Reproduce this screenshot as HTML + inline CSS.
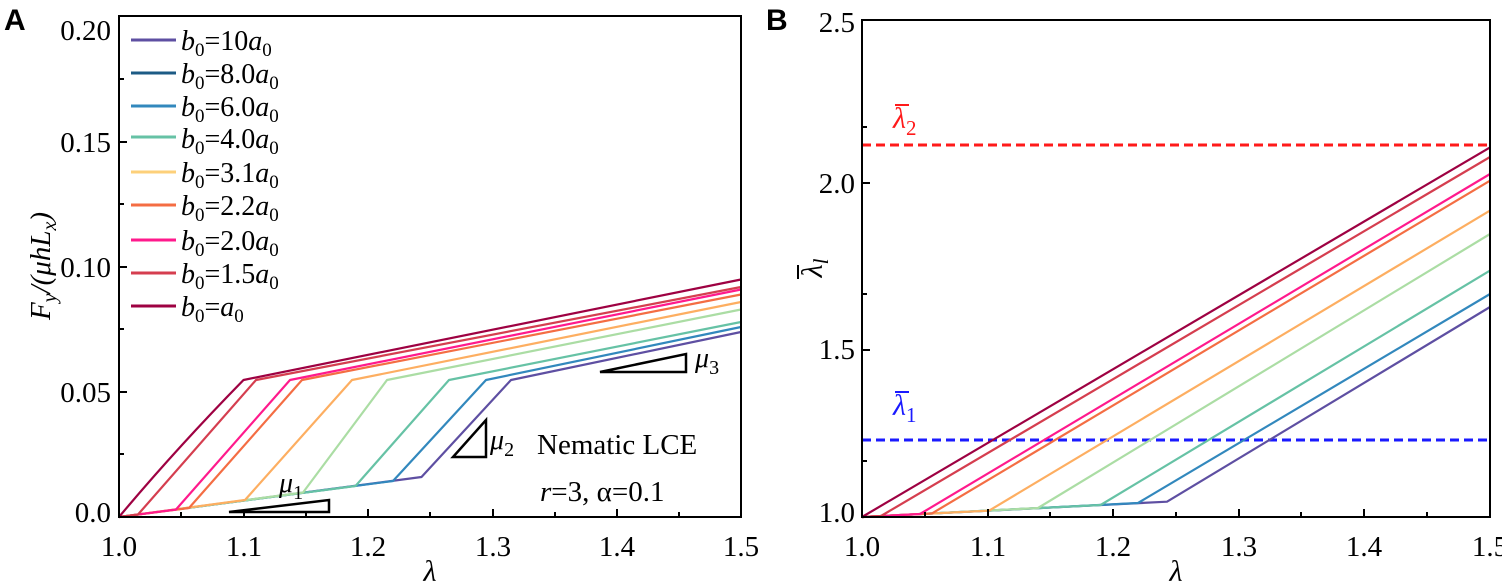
<!DOCTYPE html>
<html><head><meta charset="utf-8"><style>
body{margin:0;background:#fff}
svg text{font-family:"Liberation Serif","Times New Roman",Times,"Nimbus Roman","DejaVu Serif",serif}
svg text.lab{font-family:"Liberation Sans",Arial,sans-serif;font-weight:bold}
</style></head><body>
<svg width="1502" height="583" viewBox="0 0 1502 583" xmlns="http://www.w3.org/2000/svg">
<rect width="1502" height="583" fill="#fff"/>
<!-- Panel A -->
<text class="lab" x="4" y="30" font-size="30">A</text>
<g fill="none" stroke-width="2.2" stroke-linejoin="round">
<polyline stroke="#5e4fa2" points="119,517 421.5,477 511,380 741,332"/>
<polyline stroke="#3288bd" points="119,517 393,481 486,380 741,327"/>
<polyline stroke="#66c2a5" points="119,517 355.5,486 449,380 741,322"/>
<polyline stroke="#abdda4" points="119,517 303,492.5 387,380 741,309.5"/>
<polyline stroke="#fdae61" points="119,517 245,500 352,380 741,302"/>
<polyline stroke="#f46d43" points="119,517 189,508 302,380 741,294.5"/>
<polyline stroke="#ff1a8c" points="119,517 176,509.5 290,380 741,289.5"/>
<polyline stroke="#d53e4f" points="119,517 138,514.5 256,380 741,287"/>
<path stroke="#9e0142" d="M119,517 Q175,450 243.5,380 L741,279.5"/>
</g>
<g stroke="#000" stroke-width="2.5" fill="none">
<polygon points="229,512 329,512 329,500"/>
<polygon points="453,457 486,457 486,420"/>
<polygon points="600,372 686,372 686,354"/>
</g>
<g font-size="28" font-style="italic">
<text x="279" y="492">μ<tspan font-size="20" font-style="normal" dy="7">1</tspan></text>
<text x="490" y="449">μ<tspan font-size="20" font-style="normal" dy="7">2</tspan></text>
<text x="695" y="367">μ<tspan font-size="20" font-style="normal" dy="7">3</tspan></text>
</g>
<text x="537" y="454" font-size="29">Nematic LCE</text>
<text x="540" y="501" font-size="29"><tspan font-style="italic">r</tspan>=3, α=0.1</text>
<!-- legend -->
<g stroke-width="3">
<line x1="131" y1="40" x2="176" y2="40" stroke="#5e4fa2"/>
<line x1="131" y1="73" x2="176" y2="73" stroke="#1d5b85"/>
<line x1="131" y1="106" x2="176" y2="106" stroke="#3288bd"/>
<line x1="131" y1="137" x2="176" y2="137" stroke="#66c2a5"/>
<line x1="131" y1="172" x2="176" y2="172" stroke="#fdd07a"/>
<line x1="131" y1="205" x2="176" y2="205" stroke="#f46d43"/>
<line x1="131" y1="240" x2="176" y2="240" stroke="#ff1a8c"/>
<line x1="131" y1="273" x2="176" y2="273" stroke="#d53e4f"/>
<line x1="131" y1="306" x2="176" y2="306" stroke="#9e0142"/>
</g>
<g font-size="28">
<text x="181" y="50"><tspan font-style="italic">b</tspan><tspan font-size="19" dy="6">0</tspan><tspan dy="-6">=10</tspan><tspan font-style="italic">a</tspan><tspan font-size="19" dy="6">0</tspan></text>
<text x="181" y="83"><tspan font-style="italic">b</tspan><tspan font-size="19" dy="6">0</tspan><tspan dy="-6">=8.0</tspan><tspan font-style="italic">a</tspan><tspan font-size="19" dy="6">0</tspan></text>
<text x="181" y="116"><tspan font-style="italic">b</tspan><tspan font-size="19" dy="6">0</tspan><tspan dy="-6">=6.0</tspan><tspan font-style="italic">a</tspan><tspan font-size="19" dy="6">0</tspan></text>
<text x="181" y="148"><tspan font-style="italic">b</tspan><tspan font-size="19" dy="6">0</tspan><tspan dy="-6">=4.0</tspan><tspan font-style="italic">a</tspan><tspan font-size="19" dy="6">0</tspan></text>
<text x="181" y="182"><tspan font-style="italic">b</tspan><tspan font-size="19" dy="6">0</tspan><tspan dy="-6">=3.1</tspan><tspan font-style="italic">a</tspan><tspan font-size="19" dy="6">0</tspan></text>
<text x="181" y="215"><tspan font-style="italic">b</tspan><tspan font-size="19" dy="6">0</tspan><tspan dy="-6">=2.2</tspan><tspan font-style="italic">a</tspan><tspan font-size="19" dy="6">0</tspan></text>
<text x="181" y="250"><tspan font-style="italic">b</tspan><tspan font-size="19" dy="6">0</tspan><tspan dy="-6">=2.0</tspan><tspan font-style="italic">a</tspan><tspan font-size="19" dy="6">0</tspan></text>
<text x="181" y="283"><tspan font-style="italic">b</tspan><tspan font-size="19" dy="6">0</tspan><tspan dy="-6">=1.5</tspan><tspan font-style="italic">a</tspan><tspan font-size="19" dy="6">0</tspan></text>
<text x="181" y="316"><tspan font-style="italic">b</tspan><tspan font-size="19" dy="6">0</tspan><tspan dy="-6">=</tspan><tspan font-style="italic">a</tspan><tspan font-size="19" dy="6">0</tspan></text>
</g>
<!-- axes A -->
<rect x="119" y="16" width="622" height="501" fill="none" stroke="#000" stroke-width="2"/>
<g stroke="#000" stroke-width="2">
<line x1="119" y1="142" x2="127" y2="142"/><line x1="119" y1="267" x2="127" y2="267"/><line x1="119" y1="392" x2="127" y2="392"/>
<line x1="119" y1="79" x2="124" y2="79"/><line x1="119" y1="204" x2="124" y2="204"/><line x1="119" y1="329" x2="124" y2="329"/><line x1="119" y1="454" x2="124" y2="454"/>
<line x1="244" y1="517" x2="244" y2="509"/><line x1="368" y1="517" x2="368" y2="509"/><line x1="493" y1="517" x2="493" y2="509"/><line x1="617" y1="517" x2="617" y2="509"/>
<line x1="181" y1="517" x2="181" y2="512"/><line x1="306" y1="517" x2="306" y2="512"/><line x1="430" y1="517" x2="430" y2="512"/><line x1="555" y1="517" x2="555" y2="512"/><line x1="679" y1="517" x2="679" y2="512"/>
</g>
<g font-size="29" text-anchor="end">
<text x="111" y="40">0.20</text><text x="111" y="152">0.15</text><text x="111" y="277">0.10</text><text x="111" y="402">0.05</text><text x="111" y="522">0.0</text>
</g>
<g font-size="29" text-anchor="middle">
<text x="119" y="556">1.0</text><text x="244" y="556">1.1</text><text x="368" y="556">1.2</text><text x="493" y="556">1.3</text><text x="617" y="556">1.4</text><text x="741" y="556">1.5</text>
<text x="430" y="581" font-style="italic" font-size="30">λ</text>
</g>
<text transform="translate(50,266) rotate(-90)" text-anchor="middle" font-size="29" font-style="italic">F<tspan font-size="20" dy="6">y</tspan><tspan dy="-6">/(μhL</tspan><tspan font-size="20" dy="6">x</tspan><tspan dy="-6">)</tspan></text>

<!-- Panel B -->
<text class="lab" x="766" y="30" font-size="30">B</text>
<line x1="862" y1="145" x2="1490" y2="145" stroke="#ff1a1a" stroke-width="3" stroke-dasharray="9,5"/>
<line x1="862" y1="440" x2="1490" y2="440" stroke="#1a1aff" stroke-width="3" stroke-dasharray="9,5"/>
<g fill="none" stroke-width="2.2" stroke-linejoin="round">
<polyline stroke="#5e4fa2" points="862,517 1167,501.7 1490,307"/>
<polyline stroke="#3288bd" points="862,517 1138,503 1490,294"/>
<polyline stroke="#66c2a5" points="862,517 1100.6,505 1490,270.6"/>
<polyline stroke="#abdda4" points="862,517 1038,508 1490,234"/>
<polyline stroke="#fdae61" points="862,517 989,510.7 1490,210.6"/>
<polyline stroke="#f46d43" points="862,517 932,513.4 1490,180.7"/>
<polyline stroke="#ff1a8c" points="862,517 920,514 1490,174"/>
<polyline stroke="#d53e4f" points="862,517 881,516 1490,157"/>
<polyline stroke="#9e0142" points="862,517 1490,147.4"/>
</g>
<text x="893" y="128" font-size="30" font-style="italic" fill="#ff1a1a">λ<tspan font-size="21" font-style="normal" dy="7">2</tspan></text>
<line x1="895" y1="105" x2="909" y2="105" stroke="#ff1a1a" stroke-width="2"/>
<text x="893" y="415" font-size="30" font-style="italic" fill="#1a1aff">λ<tspan font-size="21" font-style="normal" dy="7">1</tspan></text>
<line x1="895" y1="392" x2="909" y2="392" stroke="#1a1aff" stroke-width="2"/>
<rect x="862" y="20" width="628" height="497" fill="none" stroke="#000" stroke-width="2"/>
<g stroke="#000" stroke-width="2">
<line x1="862" y1="183" x2="870" y2="183"/><line x1="862" y1="350" x2="870" y2="350"/>
<line x1="862" y1="127" x2="867" y2="127"/><line x1="862" y1="294" x2="867" y2="294"/><line x1="862" y1="461" x2="867" y2="461"/>
<line x1="988" y1="517" x2="988" y2="509"/><line x1="1113" y1="517" x2="1113" y2="509"/><line x1="1239" y1="517" x2="1239" y2="509"/><line x1="1364" y1="517" x2="1364" y2="509"/>
<line x1="925" y1="517" x2="925" y2="512"/><line x1="1050" y1="517" x2="1050" y2="512"/><line x1="1176" y1="517" x2="1176" y2="512"/><line x1="1301" y1="517" x2="1301" y2="512"/><line x1="1427" y1="517" x2="1427" y2="512"/>
</g>
<g font-size="29" text-anchor="end">
<text x="855" y="32">2.5</text><text x="855" y="193">2.0</text><text x="855" y="359">1.5</text><text x="855" y="522">1.0</text>
</g>
<g font-size="29" text-anchor="middle">
<text x="862" y="556">1.0</text><text x="988" y="556">1.1</text><text x="1113" y="556">1.2</text><text x="1239" y="556">1.3</text><text x="1364" y="556">1.4</text><text x="1490" y="556">1.5</text>
<text x="1176" y="581" font-style="italic" font-size="30">λ</text>
</g>
<g transform="translate(822,268) rotate(-90)">
<text x="0" y="0" text-anchor="middle" font-size="30" font-style="italic">λ<tspan font-size="21" dy="6">l</tspan></text>
<line x1="-11" y1="-24" x2="3" y2="-24" stroke="#000" stroke-width="2"/>
</g>
</svg>
</body></html>
